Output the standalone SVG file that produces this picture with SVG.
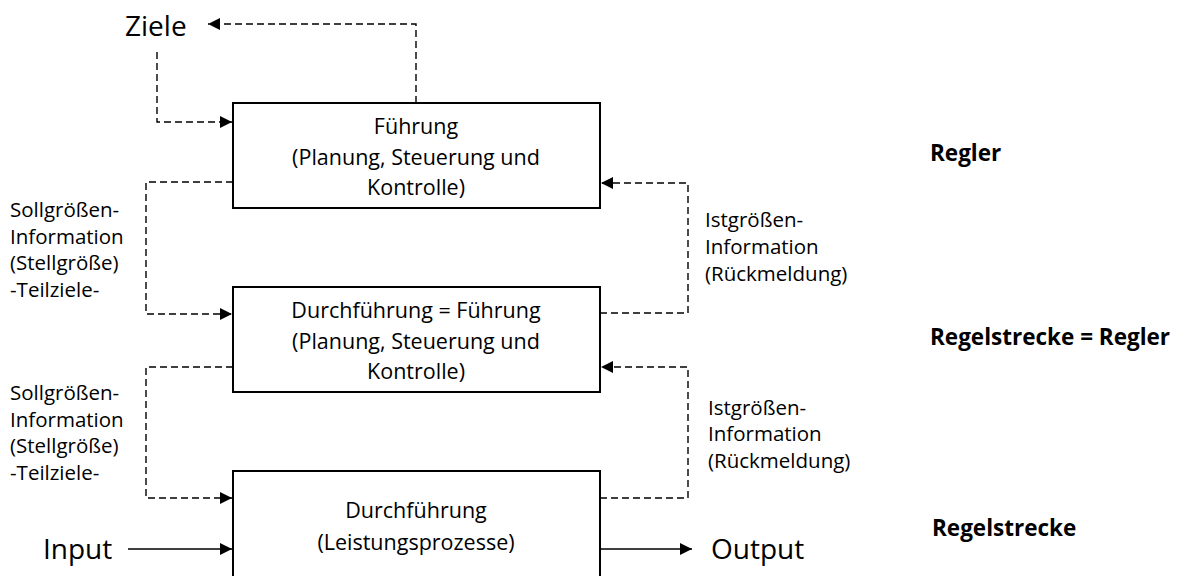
<svg xmlns="http://www.w3.org/2000/svg" width="1180" height="576" viewBox="0 0 1180 576">
  <style>
    .box { fill: #fff; stroke: #000; stroke-width: 2; }
    .t { font-family: "Open Sans", "Liberation Sans", sans-serif; font-size: 21.5px; fill: #000; }
    .lbl { font-family: "Open Sans", "Liberation Sans", sans-serif; font-size: 20.5px; fill: #000; }
    .big { font-family: "Open Sans", "Liberation Sans", sans-serif; font-size: 28px; fill: #000; }
    .bold { font-family: "Open Sans", "Liberation Sans", sans-serif; font-size: 22.5px; font-weight: bold; fill: #000; }
    .dash { fill: none; stroke: #000; stroke-width: 1.4; stroke-dasharray: 7 4; }
    .solid { fill: none; stroke: #000; stroke-width: 1.4; }
  </style>
  <defs>
    <marker id="arrow" viewBox="0 0 10 10" refX="10" refY="5" markerWidth="12" markerHeight="12" markerUnits="userSpaceOnUse" orient="auto">
      <path d="M0,0 L10,5 L0,10 z" fill="#000"/>
    </marker>
  </defs>

  <!-- connectors -->
  <g id="connectors">
    <path class="dash" d="M416,103 V24 H208" marker-end="url(#arrow)"/>
    <path class="dash" d="M157,52 V122 H232" marker-end="url(#arrow)"/>
    <path class="dash" d="M233,182 H146 V314 H232" marker-end="url(#arrow)"/>
    <path class="dash" d="M233,367 H146 V498 H232" marker-end="url(#arrow)"/>
    <path class="dash" d="M600,313 H688 V183 H601" marker-end="url(#arrow)"/>
    <path class="dash" d="M600,498 H688 V367 H601" marker-end="url(#arrow)"/>
    <path class="solid" d="M128,549 H232" marker-end="url(#arrow)"/>
    <path class="solid" d="M600,549 H692" marker-end="url(#arrow)"/>
  </g>

  <g id="fuehrung">
    <rect class="box" x="233" y="103" width="367" height="105"/>
    <text class="t" text-anchor="middle" x="416" y="134">Führung</text>
    <text class="t" text-anchor="middle" x="416" y="165">(Planung, Steuerung und</text>
    <text class="t" text-anchor="middle" x="416" y="195">Kontrolle)</text>
  </g>

  <g id="durchfuehrung-fuehrung">
    <rect class="box" x="233" y="287" width="367" height="105"/>
    <text class="t" text-anchor="middle" x="416" y="318">Durchführung = Führung</text>
    <text class="t" text-anchor="middle" x="416" y="349">(Planung, Steuerung und</text>
    <text class="t" text-anchor="middle" x="416" y="379">Kontrolle)</text>
  </g>

  <g id="durchfuehrung">
    <rect class="box" x="233" y="471" width="367" height="120"/>
    <text class="t" text-anchor="middle" x="416" y="518">Durchführung</text>
    <text class="t" text-anchor="middle" x="416" y="550">(Leistungsprozesse)</text>
  </g>

  <g id="ziele"><text class="big" x="125" y="36">Ziele</text></g>
  <g id="input"><text class="big" x="43" y="559">Input</text></g>
  <g id="output"><text class="big" x="711" y="559">Output</text></g>

  <g id="soll-1">
    <text class="lbl" x="10" y="217">Sollgrößen-</text>
    <text class="lbl" x="10" y="244">Information</text>
    <text class="lbl" x="10" y="270">(Stellgröße)</text>
    <text class="lbl" x="10" y="297">-Teilziele-</text>
  </g>
  <g id="soll-2">
    <text class="lbl" x="10" y="400">Sollgrößen-</text>
    <text class="lbl" x="10" y="427">Information</text>
    <text class="lbl" x="10" y="453">(Stellgröße)</text>
    <text class="lbl" x="10" y="480">-Teilziele-</text>
  </g>
  <g id="ist-1">
    <text class="lbl" x="705" y="227">Istgrößen-</text>
    <text class="lbl" x="705" y="254">Information</text>
    <text class="lbl" x="705" y="281">(Rückmeldung)</text>
  </g>
  <g id="ist-2">
    <text class="lbl" x="708" y="415">Istgrößen-</text>
    <text class="lbl" x="708" y="441">Information</text>
    <text class="lbl" x="708" y="468">(Rückmeldung)</text>
  </g>

  <g id="regler"><text class="bold" x="930" y="161">Regler</text></g>
  <g id="regelstrecke-regler"><text class="bold" x="930" y="345">Regelstrecke = Regler</text></g>
  <g id="regelstrecke"><text class="bold" x="932" y="536">Regelstrecke</text></g>
</svg>
